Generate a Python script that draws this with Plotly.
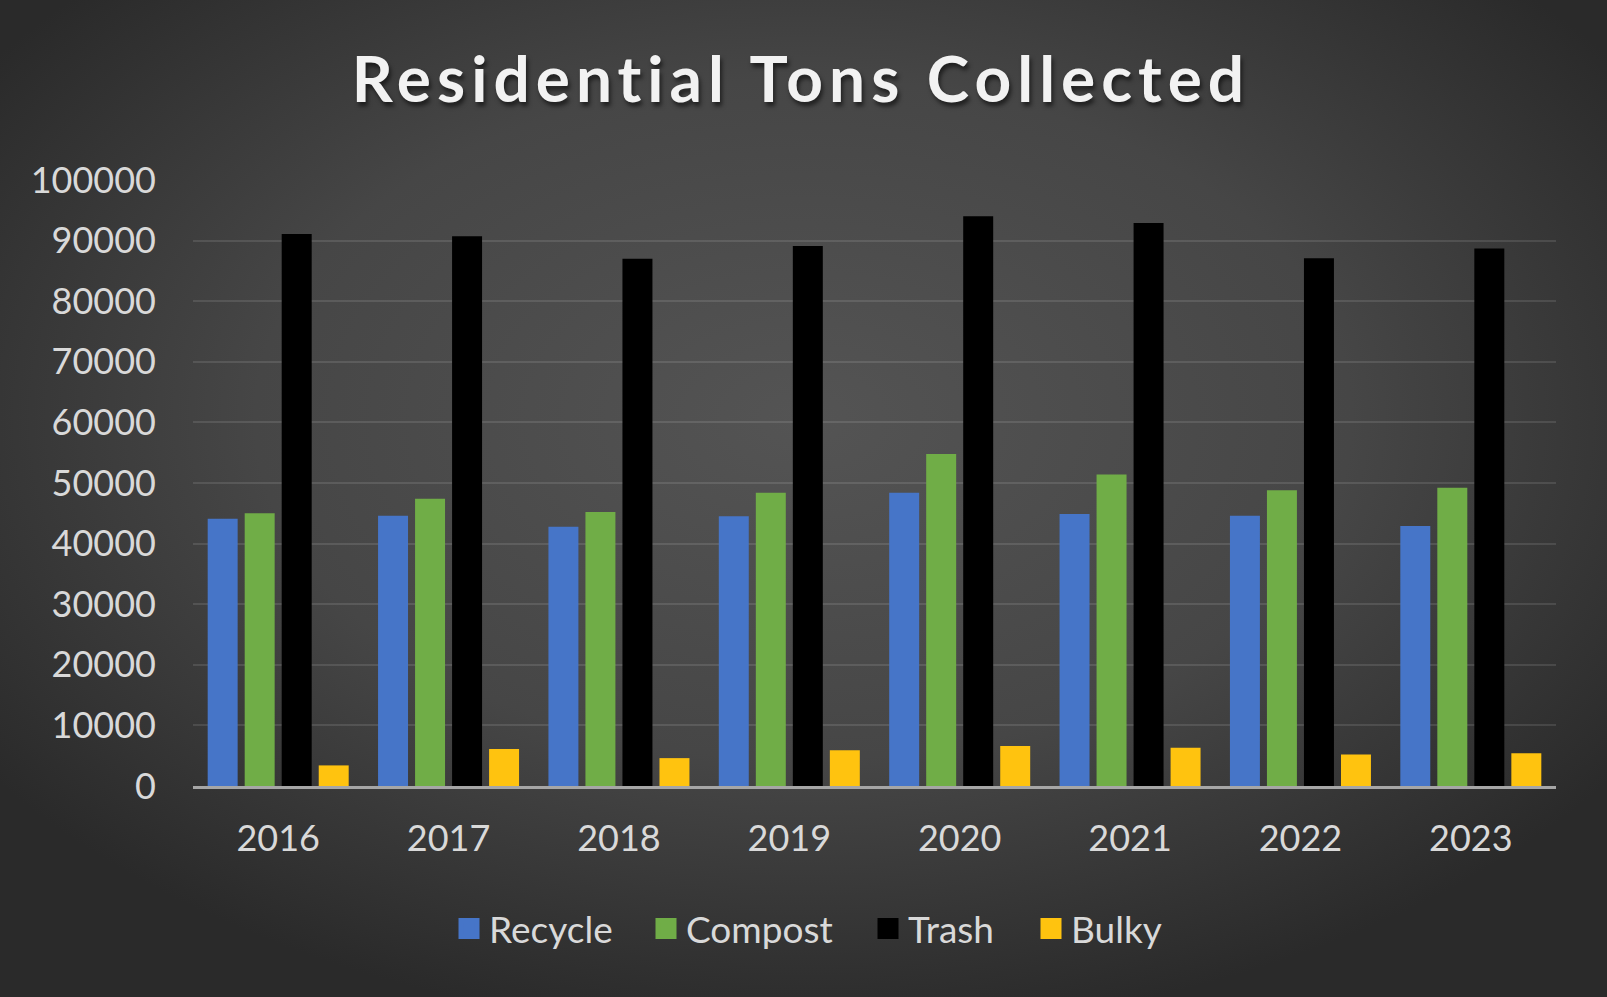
import base64
import plotly.graph_objects as go

years = ["2016", "2017", "2018", "2019", "2020", "2021", "2022", "2023"]
recycle = [44100, 44600, 42800, 44500, 48400, 44900, 44600, 42900]
compost = [45000, 47400, 45200, 48400, 54800, 51400, 48800, 49200]
trash = [91100, 90700, 87000, 89100, 94000, 92900, 87100, 88700]
bulky = [3400, 6100, 4600, 5900, 6600, 6300, 5200, 5400]
y_ticks = [0, 10000, 20000, 30000, 40000, 50000, 60000, 70000, 80000, 90000, 100000]

series = [
    ("Recycle", recycle, "#4675c8"),
    ("Compost", compost, "#70ad47"),
    ("Trash", trash, "#000000"),
    ("Bulky", bulky, "#ffc30f"),
]
# left edge (px) of each legend swatch
legend_left = [459, 656, 878, 1041]

W, H = 1607, 997
L, R, T, B = 193, 51, 180, 211
pw, ph = W - L - R, H - T - B

svg = f'''<svg xmlns="http://www.w3.org/2000/svg" width="{W}" height="{H}" viewBox="0 0 {W} {H}" preserveAspectRatio="none">
<defs><radialGradient id="g" cx="0.5" cy="0.42" r="0.62" gradientUnits="objectBoundingBox">
<stop offset="0" stop-color="#545454"/><stop offset="0.55" stop-color="#464646"/><stop offset="1" stop-color="#2a2a2a"/>
</radialGradient></defs><rect width="{W}" height="{H}" fill="url(#g)"/></svg>'''
bg_src = "data:image/svg+xml;base64," + base64.b64encode(svg.encode()).decode()

font_family = "Lato, Carlito, Calibri, 'Open Sans', sans-serif"

fig = go.Figure()
for name, vals, col in series:
    fig.add_trace(go.Bar(
        x=years, y=vals, name=name, marker=dict(color=col, line=dict(width=0)),
        showlegend=False, legendgroup=name, hoverinfo="x+y+name",
    ))

legend_layouts = {}
for i, (name, vals, col) in enumerate(series):
    lname = "legend" if i == 0 else f"legend{i + 1}"
    fig.add_trace(go.Scatter(
        x=[None], y=[None], mode="markers", name=name, legendgroup=name,
        legend=lname,
        marker=dict(symbol="square", size=16, color=col,
                    line=dict(width=5, color=col)),
        showlegend=True,
    ))
    legend_layouts[lname] = dict(
        orientation="h", xref="container", yref="container",
        x=(legend_left[i] - 10) / W, xanchor="left",
        y=1 - 929 / H, yanchor="middle",
        font=dict(family=font_family, size=37, color="#d9d9d9"),
        bgcolor="rgba(0,0,0,0)", itemsizing="trace",
    )

fig.update_layout(
    width=W, height=H,
    margin=dict(l=L, r=R, t=T, b=B, pad=0),
    paper_bgcolor="#3c3c3c",
    plot_bgcolor="rgba(0,0,0,0)",
    barmode="group",
    bargap=0.131,
    bargroupgap=0.19,
    title=dict(
        text="<b>Residential Tons Collected</b>",
        x=801 / W, xref="container", xanchor="center",
        y=1 - 80 / H, yref="container", yanchor="middle",
        font=dict(family=font_family, size=64, color="#f2f2f2",
                  shadow="2px 4px 4px rgba(0,0,0,0.55)"),
    ),
    xaxis=dict(
        type="category", showgrid=False, zeroline=False,
        showline=True, linecolor="#a6a6a6", linewidth=3,
        ticks="", tickfont=dict(family=font_family, size=36, color="#d9d9d9"),
        ticklabelstandoff=19,
    ),
    yaxis=dict(
        range=[0, 100000], tickvals=y_ticks, ticktext=[str(v) for v in y_ticks],
        showgrid=True, gridcolor="rgba(255,255,255,0.11)", gridwidth=2,
        zeroline=False, showline=False, ticks="",
        tickfont=dict(family=font_family, size=36, color="#d9d9d9"),
        ticklabelstandoff=36,
    ),
    images=[dict(
        source=bg_src, xref="paper", yref="paper",
        x=-L / pw, y=1 + T / ph, sizex=W / pw, sizey=H / ph,
        xanchor="left", yanchor="top", sizing="stretch", layer="below",
    )],
    showlegend=True,
    **legend_layouts,
)

post = """
document.body.style.margin = '0';
document.body.style.padding = '0';
document.body.style.overflow = 'hidden';
var t = document.querySelector('.gtitle');
if (t) { t.style.letterSpacing = '6px'; }
"""

fig.write_html("out.html", post_script=post, config={"displayModeBar": False})
